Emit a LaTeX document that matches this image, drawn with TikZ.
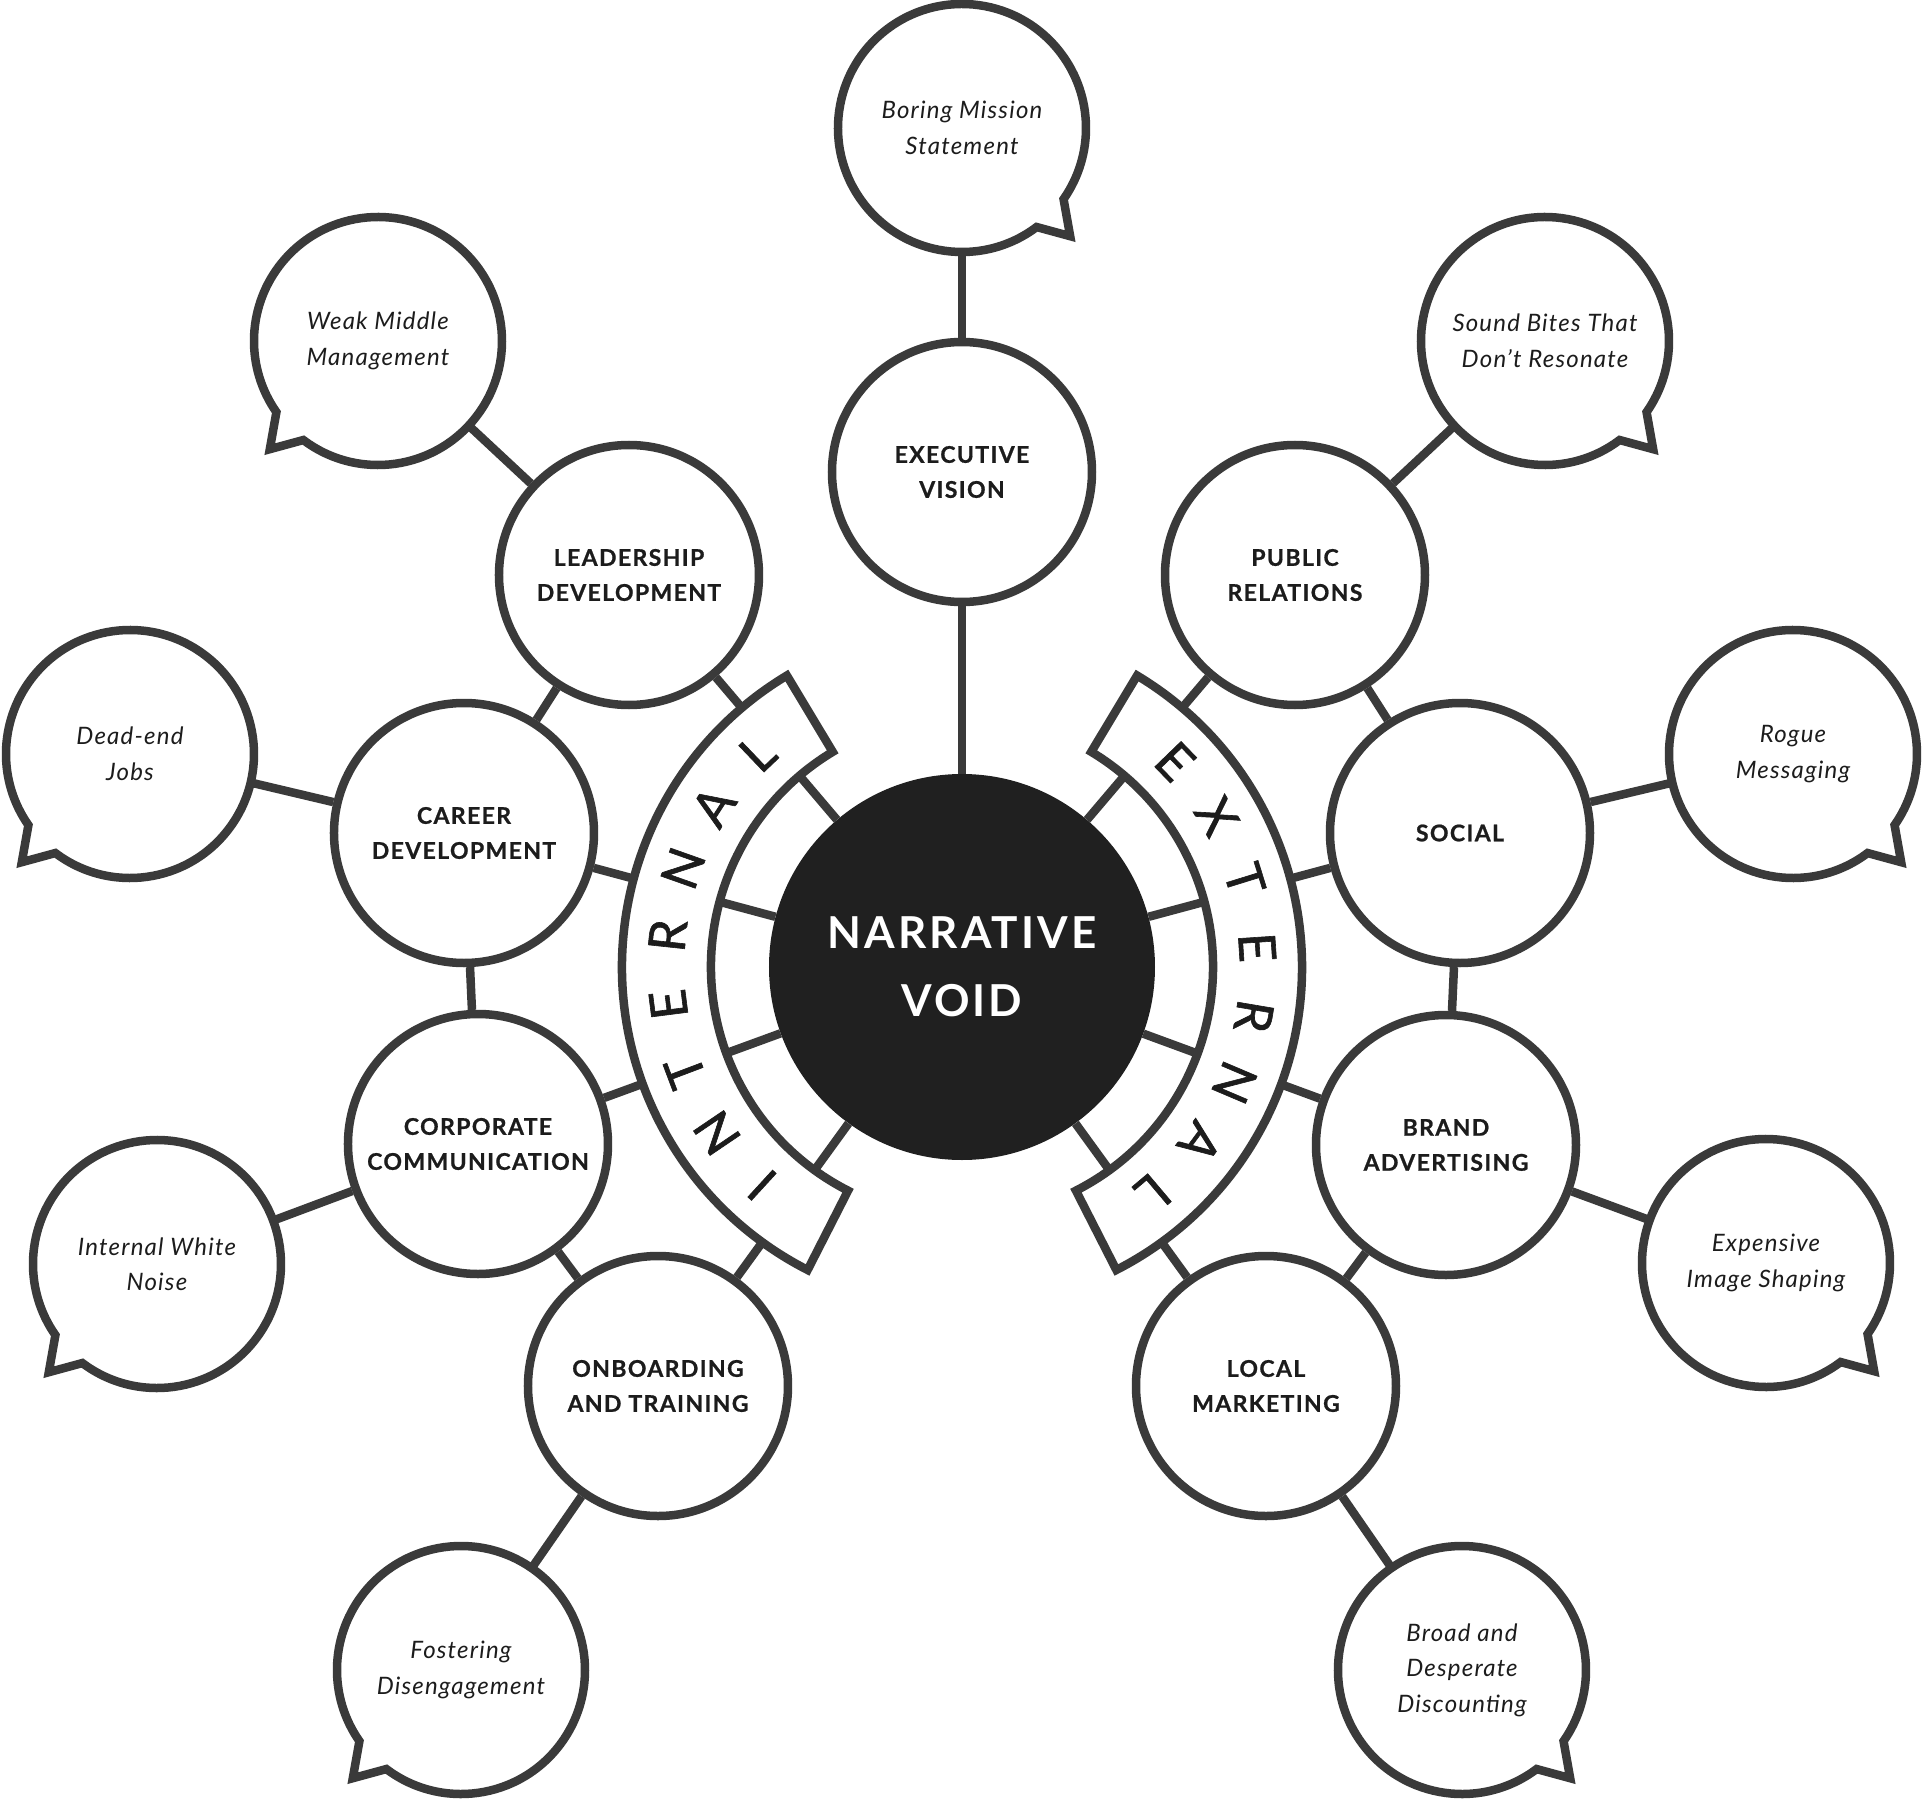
\documentclass[tikz,border=0pt]{standalone}
\usepackage{fontspec}
\setmainfont{Lato}
\newfontfamily\labelfont{Lato Bold}[LetterSpace=6, FakeBold=0.8]
\newfontfamily\ringfont{Lato}[FakeBold=1.2]
\newfontfamily\notefont{Lato}[LetterSpace=5]
\newfontfamily\voidfont{Lato}[LetterSpace=7]
\usetikzlibrary{backgrounds}
\definecolor{linegray}{RGB}{58,58,58}
\definecolor{voidblack}{RGB}{32,32,32}
\definecolor{inkblack}{RGB}{28,28,28}
\tikzset{
  topic/.style={circle, draw=linegray, fill=white, line width=8.5pt, minimum size=260pt,
    inner sep=0pt, align=center, text=inkblack,
    font=\labelfont\fontsize{23}{35}\selectfont},
  remark/.style={circle, minimum size=248pt, inner sep=0pt, align=center, text=inkblack,
    font=\notefont\itshape\fontsize{24}{35.5}\selectfont},
  link/.style={draw=linegray, line width=8.5pt},
  band/.style={draw=linegray, fill=white, line width=8.5pt},
  ringletter/.style={inner sep=0pt, text=inkblack, font=\ringfont\fontsize{51}{51}\selectfont},
}

\begin{document}
\begin{tikzpicture}[x=1pt, y=1pt, line join=round]
\useasboundingbox (-962,-833) rectangle (960,967);
% centre
\node[circle, fill=voidblack, minimum size=386pt, inner sep=0pt, align=center, text=white,
  font=\voidfont\bfseries\fontsize{44}{68}\selectfont] (nv) at (0,0) {NARRATIVE\\VOID};
% top
\node[topic] (ev) at (0,495) {EXECUTIVE\\VISION};
\node[remark] (bms) at (0,839) {Boring Mission\\Statement};
% internal side
\node[topic] (ld) at (-333,392) {LEADERSHIP\\DEVELOPMENT};
\node[topic] (cd) at (-498,134) {CAREER\\DEVELOPMENT};
\node[topic] (cc) at (-484,-177) {CORPORATE\\COMMUNICATION};
\node[topic] (ot) at (-304,-419) {ONBOARDING\\AND TRAINING};
\node[remark] (wmm) at (-584,626) {Weak Middle\\Management};
\node[remark] (dej) at (-832,213) {Dead-end\\Jobs};
\node[remark] (iwn) at (-805,-297) {Internal White\\Noise};
\node[remark] (fod) at (-501,-703) {Fostering\\Disengagement};
% external side
\node[topic] (pr) at (333,392) {PUBLIC\\RELATIONS};
\node[topic] (so) at (498,134) {SOCIAL};
\node[topic] (ba) at (484,-178) {BRAND\\ADVERTISING};
\node[topic] (lm) at (304,-419) {LOCAL\\MARKETING};
\node[remark] (sbr) at (583,626) {Sound Bites That\\Don’t Resonate};
\node[remark] (rgm) at (831,213) {Rogue\\Messaging};
\node[remark] (eis) at (804,-296) {Expensive\\Image Shaping};
\node[remark] (bdd) at (500,-703) {Broad and\\Desperate\\Discounting};

\begin{pgfonlayer}{background}
  % spokes
  \foreach \t in {ev,ld,cd,cc,ot,pr,so,ba,lm}
    \draw[link] (nv) -- (\t);
  % links
  \draw[link] (ev) -- (bms);
  \draw[link] (ld) -- (wmm);
  \draw[link] (cd) -- (dej);
  \draw[link] (cc) -- (iwn);
  \draw[link] (ot) -- (fod);
  \draw[link] (pr) -- (sbr);
  \draw[link] (so) -- (rgm);
  \draw[link] (ba) -- (eis);
  \draw[link] (lm) -- (bdd);
  \draw[link] (ld) -- (cd) -- (cc) -- (ot);
  \draw[link] (pr) -- (so) -- (ba) -- (lm);
  % bands
  \filldraw[band] (121:340) arc[start angle=121, end angle=243, radius=340]
    -- (243:251) arc[start angle=243, end angle=121, radius=251] -- cycle;
  \filldraw[band] (59:340) arc[start angle=59, end angle=-63, radius=340]
    -- (-63:251) arc[start angle=-63, end angle=59, radius=251] -- cycle;
  \foreach \c [count=\i from 0, evaluate=\i as \a using 227.5-13.4*\i] in {I,N,T,E,R,N,A,L}
    \node[ringletter, rotate=\a-90] at (\a:296) {\c};
  \foreach \c [count=\i from 0, evaluate=\i as \a using 44-13.4*\i] in {E,X,T,E,R,N,A,L}
    \node[ringletter, rotate=\a-90] at (\a:296) {\c};
  % bubbles
  \foreach \b/\s in {bms/-1,wmm/1,dej/1,iwn/1,fod/1,sbr/-1,rgm/-1,eis/-1,bdd/-1}
    \filldraw[band, shift={(\b.center)}, xscale=\s] (233:124)
      arc[start angle=233, end angle=575, radius=124] -- (225:153) -- cycle;
\end{pgfonlayer}
\end{tikzpicture}
\end{document}
